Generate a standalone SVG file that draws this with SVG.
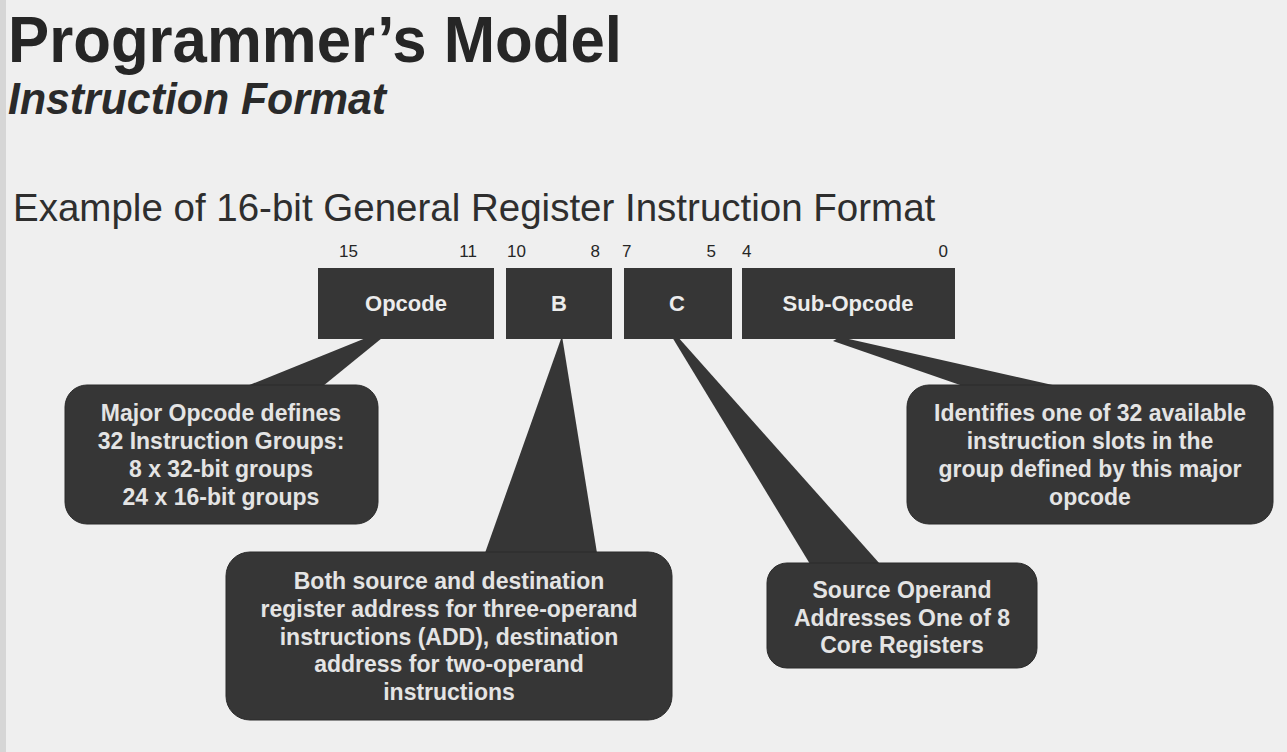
<svg xmlns="http://www.w3.org/2000/svg" width="1287" height="752" viewBox="0 0 1287 752">
<style>
.bg{fill:#efefef}
.title{font-family:"Liberation Sans",Arial,sans-serif;font-weight:bold;fill:#262626}
.sub{font-family:"Liberation Sans",Arial,sans-serif;font-weight:bold;font-style:italic;fill:#2a2a2a}
.head{font-family:"Liberation Sans",Arial,sans-serif;fill:#2e2e2e;font-size:38.5px}
.bit{font-family:"Liberation Sans",Arial,sans-serif;fill:#262626;font-size:17px}
.box{fill:#363636}
.lbl{font-family:"Liberation Sans",Arial,sans-serif;font-weight:bold;fill:#ececec;font-size:22px;text-anchor:middle}
.call{fill:#363636;stroke:#2a2a2a;stroke-width:1}
.ct{font-family:"Liberation Sans",Arial,sans-serif;font-weight:bold;fill:#e4e4e4;font-size:23px;text-anchor:middle}
</style>
<rect class="bg" x="0" y="0" width="1287" height="752"/>
<rect x="0" y="0" width="6" height="752" fill="#d6d6d6"/>

<g id="titles">
<text class="title" x="8" y="62" font-size="65" textLength="614" lengthAdjust="spacingAndGlyphs">Programmer’s Model</text>
<text class="sub" x="8" y="114" font-size="45" textLength="378" lengthAdjust="spacingAndGlyphs">Instruction Format</text>
<text class="head" x="13" y="221">Example of 16-bit General Register Instruction Format</text>
</g>

<g id="bits">
<text class="bit" x="339" y="257">15</text>
<text class="bit" x="477" y="257" text-anchor="end">11</text>
<text class="bit" x="507" y="257">10</text>
<text class="bit" x="600" y="257" text-anchor="end">8</text>
<text class="bit" x="622" y="257">7</text>
<text class="bit" x="716" y="257" text-anchor="end">5</text>
<text class="bit" x="742" y="257">4</text>
<text class="bit" x="948" y="257" text-anchor="end">0</text>
</g>

<g id="connectors">
<polygon class="box" points="398,325 247,386 323,386"/>
<polygon class="box" points="562,336 485,553 597,553"/>
<polygon class="box" points="669,332 810,564 880,564 677,336"/>
<polygon class="box" points="833,341 963,386 1057,386 840,337"/>
</g>

<g id="opcode"><rect class="box" x="318" y="268" width="176" height="71"/><text class="lbl" x="406" y="311">Opcode</text></g>
<g id="b"><rect class="box" x="506" y="268" width="106" height="71"/><text class="lbl" x="559" y="311">B</text></g>
<g id="c"><rect class="box" x="624" y="268" width="108" height="71"/><text class="lbl" x="677" y="311">C</text></g>
<g id="subopcode"><rect class="box" x="742" y="268" width="213" height="71"/><text class="lbl" x="848" y="311">Sub-Opcode</text></g>

<g id="callout-opcode">
<rect class="call" x="65" y="385" width="313" height="139" rx="22"/>
<text class="ct" x="221" y="421">Major Opcode defines</text>
<text class="ct" x="221" y="449">32 Instruction Groups:</text>
<text class="ct" x="221" y="477">8 x 32-bit groups</text>
<text class="ct" x="221" y="505">24 x 16-bit groups</text>
</g>

<g id="callout-b">
<rect class="call" x="226" y="552" width="446" height="168" rx="24"/>
<text class="ct" x="449" y="589">Both source and destination</text>
<text class="ct" x="449" y="617">register address for three-operand</text>
<text class="ct" x="449" y="645">instructions (ADD), destination</text>
<text class="ct" x="449" y="672">address for two-operand</text>
<text class="ct" x="449" y="700">instructions</text>
</g>

<g id="callout-c">
<rect class="call" x="767" y="563" width="270" height="105" rx="20"/>
<text class="ct" x="902" y="598">Source Operand</text>
<text class="ct" x="902" y="626">Addresses One of 8</text>
<text class="ct" x="902" y="653">Core Registers</text>
</g>

<g id="callout-sub">
<rect class="call" x="907" y="385" width="366" height="139" rx="22"/>
<text class="ct" x="1090" y="421">Identifies one of 32 available</text>
<text class="ct" x="1090" y="449">instruction slots in the</text>
<text class="ct" x="1090" y="477">group defined by this major</text>
<text class="ct" x="1090" y="505">opcode</text>
</g>
</svg>
